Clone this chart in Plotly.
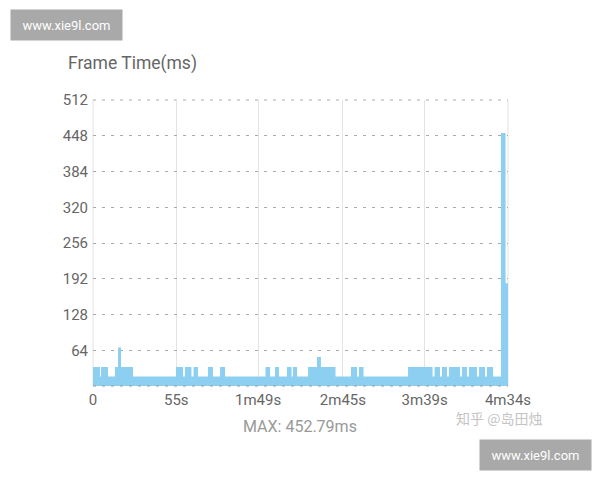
import plotly.graph_objects as go

# Step-segment start times (seconds) and frame time values (ms)
seg_start = [0.0, 4.6, 5.3, 9.9, 14.5, 16.5, 18.5, 26.4, 54.8, 59.4, 60.7, 65.0,
             66.4, 69.3, 75.9, 79.2, 83.9, 87.2, 113.9, 116.9, 120.2, 122.8,
             128.1, 131.1, 132.0, 134.7, 142.0, 147.9, 150.5, 160.1, 170.3,
             174.3, 175.6, 178.6, 208.0, 224.2, 225.5, 229.1, 230.4, 233.7,
             235.0, 242.3, 243.6, 246.9, 248.2, 253.5, 254.9, 258.8, 260.1,
             264.1, 269.4, 272.4, 274.0]
frame_ms = [34, 17, 34, 17, 34, 69, 34, 17, 34, 17, 34, 17,
            34, 17, 34, 17, 34, 17, 34, 17, 34, 17,
            34, 17, 34, 17, 34, 52, 34, 17, 34,
            17, 34, 17, 34, 17, 34, 17, 34, 17,
            34, 17, 34, 17, 34, 17, 34, 17, 34,
            17, 452.79, 184, 184]

y_ticks = [0, 64, 128, 192, 256, 320, 384, 448, 512]
y_labels = ["", "64", "128", "192", "256", "320", "384", "448", "512"]
x_ticks = [0, 55, 109, 165, 219, 274]
x_labels = ["0", "55s", "1m49s", "2m45s", "3m39s", "4m34s"]

FONT = "Roboto"

fig = go.Figure()
fig.add_trace(go.Scatter(
    x=seg_start, y=frame_ms, mode="lines", line=dict(shape="hv", width=0, color="#8ccff1"),
    fill="tozeroy", fillcolor="#8ccff1", hoverinfo="skip", showlegend=False,
))

dash_line = dict(color="#aaaaaa", width=1, dash="3px,6px")
solid_line = dict(color="#e3e3e3", width=1)

fig.update_layout(
    width=592, height=472,
    margin=dict(l=85, r=92, t=92, b=94),
    paper_bgcolor="white", plot_bgcolor="white",
    font=dict(family=FONT, color="#666666", size=14),
    xaxis=dict(range=[0, 274], tickvals=x_ticks, ticktext=x_labels,
               showgrid=True, gridcolor="#e3e3e3", gridwidth=1, zeroline=False,
               showline=False, ticks="", ticklabelstandoff=3,
               tickfont=dict(size=15, color="#666666", family=FONT), fixedrange=True),
    yaxis=dict(range=[0, 512], tickvals=y_ticks, ticktext=y_labels,
               showgrid=True, gridcolor="#aaaaaa", griddash="3px,6px", gridwidth=1,
               zeroline=False, showline=False, ticks="", ticklabelstandoff=4,
               tickfont=dict(size=15, color="#666666", family=FONT), fixedrange=True),
    shapes=[
        dict(type="line", xref="paper", yref="paper", x0=0, x1=0, y0=0, y1=1,
             line=solid_line, layer="below"),
        dict(type="line", xref="paper", yref="paper", x0=1, x1=1, y0=0, y1=1,
             line=solid_line, layer="below"),
        dict(type="line", xref="paper", yref="paper", x0=0, x1=1, y0=1, y1=1,
             line=dash_line, layer="below"),
        dict(type="line", xref="paper", yref="paper", x0=0, x1=1, y0=0, y1=0,
             line=dict(color="#999999", width=1, dash="3px,6px"), layer="above"),
    ],
    annotations=[
        dict(text="Frame Time(ms)", xref="paper", yref="paper", x=-0.065, y=1.129,
             xanchor="left", yanchor="middle", showarrow=False,
             font=dict(size=17.5, color="#666666", family=FONT)),
        dict(text="MAX: 452.79ms", xref="paper", yref="paper", x=0.499, y=-0.143,
             xanchor="center", yanchor="middle", showarrow=False,
             font=dict(size=16, color="#999999", family=FONT)),
        dict(text="知乎 @岛田烛", xref="paper", yref="paper", x=0.978, y=-0.112,
             xanchor="center", yanchor="middle", showarrow=False,
             font=dict(size=14, color="#c4c4c4", family="Noto Sans CJK SC")),
        dict(text="www.xie9l.com", xref="paper", yref="paper", x=-0.2, y=1.262,
             xanchor="left", yanchor="middle", showarrow=False,
             bgcolor="#a9a9a9", width=103, height=22, borderpad=4,
             font=dict(size=13, color="white", family=FONT)),
        dict(text="www.xie9l.com", xref="paper", yref="paper", x=0.93, y=-0.241,
             xanchor="left", yanchor="middle", showarrow=False,
             bgcolor="#a9a9a9", width=103, height=22, borderpad=4,
             font=dict(size=13, color="white", family=FONT)),
    ],
)

fig.write_html("out.html")
